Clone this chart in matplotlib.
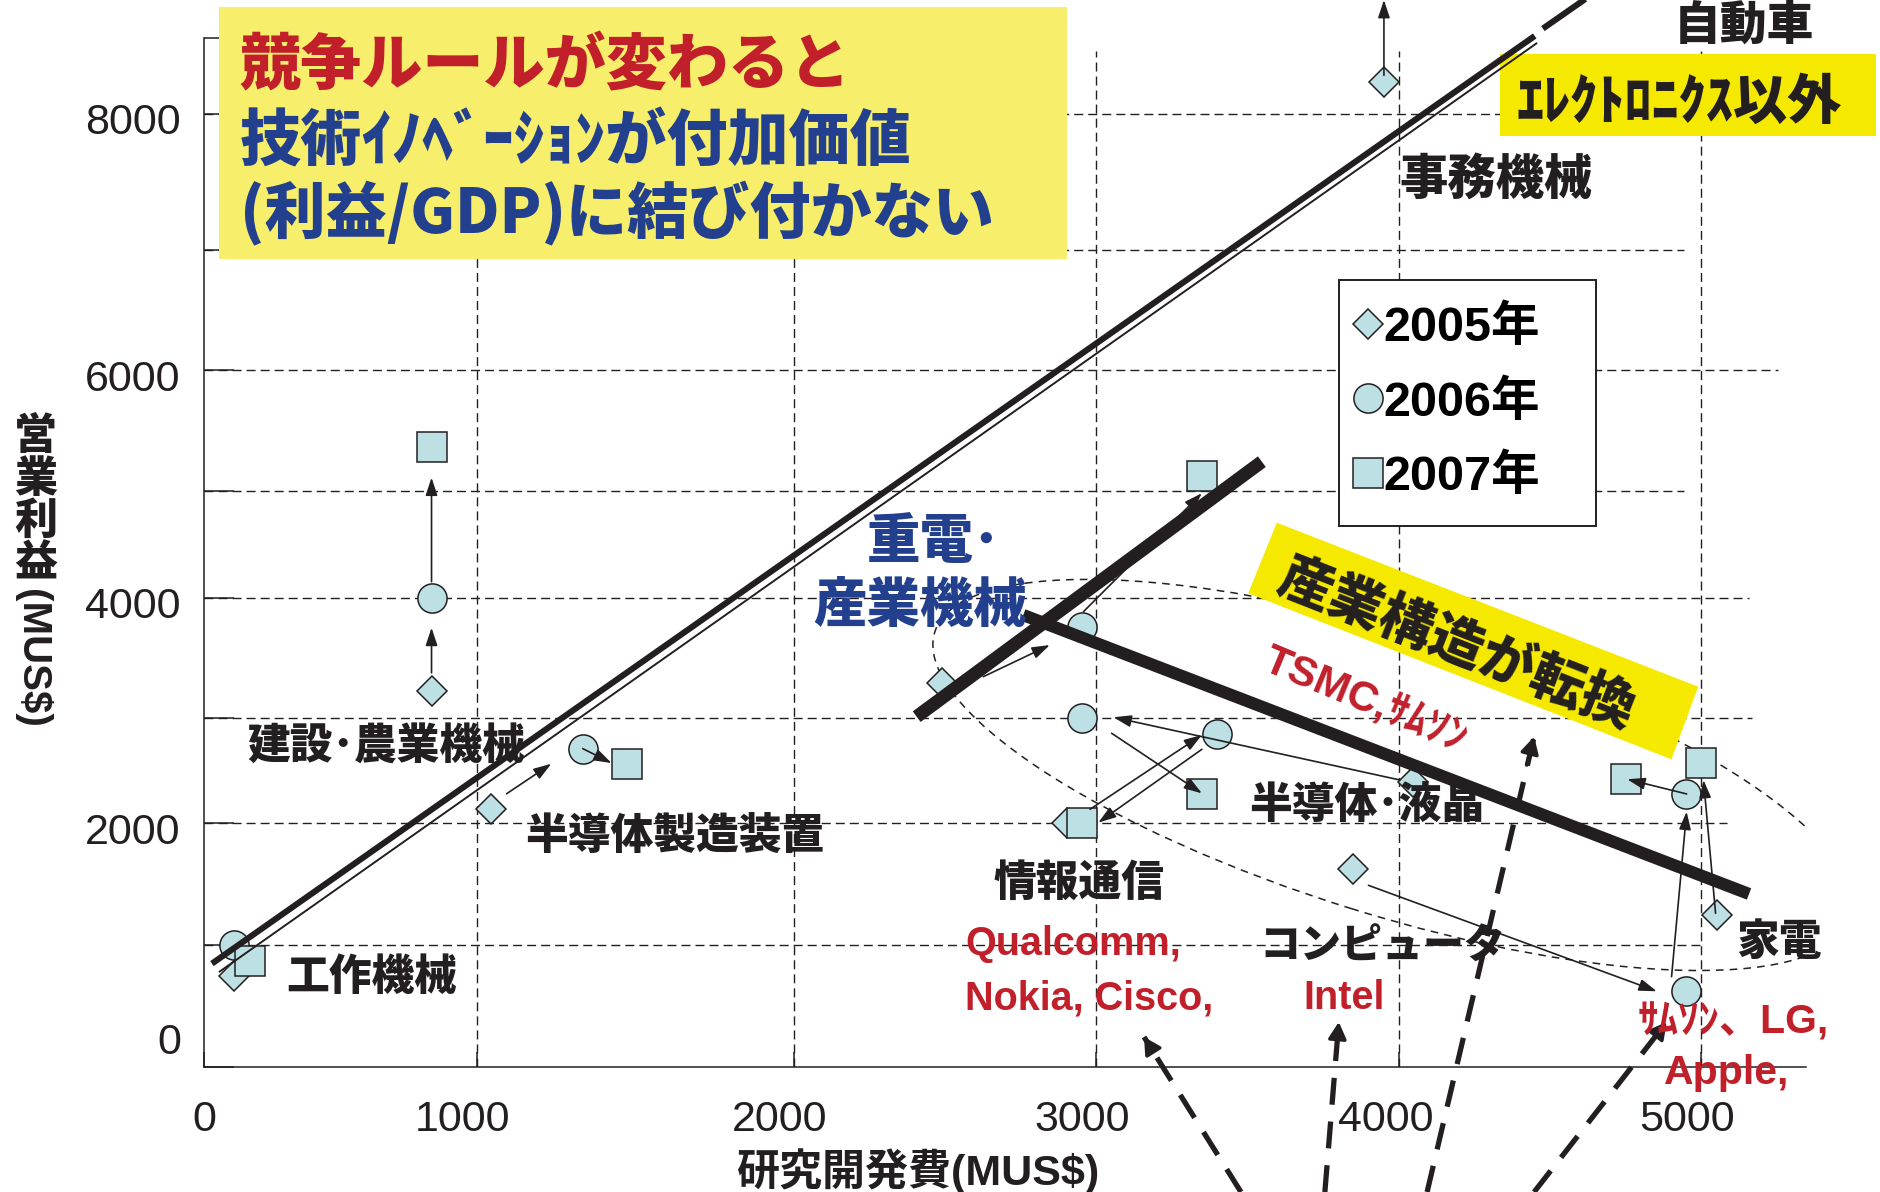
import numpy as np
import matplotlib
matplotlib.use("Agg")
import matplotlib.pyplot as plt
import matplotlib.transforms as mtransforms
from matplotlib.patches import Ellipse, Polygon, Rectangle
from matplotlib.lines import Line2D

# ---------------- values ----------------
# x: R&D spending (MUS$), y: operating profit (MUS$)
# order: 工作機械, 建設・農業機械, 半導体製造装置, 重電・産業機械, 情報通信,
#        半導体・液晶, コンピュータ, 家電, 事務機械
x2005 = [111, 834, 1045, 2489, 2902, 4044, 3848, 5053, 3949]
y2005 = [746, 3229, 2139, 3289, 2000, 2396, 1623, 1247, 8230]
x2006 = [111, 834, 1334, 2951, 3397, 2951, 4952, 4951]
y2006 = [1000, 4000, 2710, 3756, 2848, 3000, 622, 2280]
x2007 = [169, 834, 1474, 3350, 2951, 3350, 4752, 5000]
y2007 = [871, 5365, 2566, 5124, 2000, 2280, 2419, 2571]

# year-to-year arrows (tail -> head)
arr_x0 = [834, 834, 1094, 1334, 2626, 2957, 2979, 3348, 4002, 3050, 3898, 4903, 5049, 4953, 3949]
arr_y0 = [3376, 4152, 2282, 2710, 3344, 3886, 2135, 2703, 2412, 2855, 1491, 740, 1261, 2280, 8281]
arr_x1 = [834, 834, 1235, 1425, 2846, 3348, 3348, 3006, 3056, 3348, 4854, 4953, 5009, 4756, 3949]
arr_y1 = [3752, 5111, 2566, 2573, 3608, 4979, 2839, 2008, 3006, 2286, 620, 2112, 2412, 2419, 8834]

# dashed call-out arrows coming from below the chart (tail -> head)
call_x0 = [3477, 3754, 4092, 4447]
call_y0 = [-1028, -1028, -1028, -1028]
call_x1 = [3157, 3800, 4447, 4887]
call_y1 = [245, 368, 2823, 368]

# hand-drawn trend lines [x0, y0, x1, y1]
frontier_thick = [29, 847, 4449, 8570]
frontier_thin = [55, 778, 4457, 8519]
frontier_dash = [4476, 8624, 4755, 9054]
heavy_line = [2406, 3011, 3546, 5243]
shift_line = [2758, 3858, 5160, 1420]
ellipse_center = [3979, 2460]

x_ticks = [0, 1000, 2000, 3000, 4000, 5000]
y_ticks = [0, 2000, 4000, 6000, 8000]
y_minor = [1000, 3000, 5000, 7000]
x_grid = [1000, 2000, 3000, 4000, 5000]
y_grid = [1000, 2000, 3000, 4000, 5000, 6000, 7000, 8000]
y_grid_end = [5000, 5088, 5171, 5161, 4945, 5256, 4945, 5164]
legend_labels = ["2005年", "2006年", "2007年"]

# the hand-drawn axis is not perfectly even: pixel position of each grid line
x_knot_val = [0, 1000, 2000, 3000, 4000, 5000]
x_knot_px = [204, 476.8, 793.75, 1096.4, 1399.3, 1700.7]
y_knot_val = [0, 1000, 2000, 3000, 4000, 5000, 6000, 7000, 8000]
y_knot_px = [1066.8, 945, 823.5, 718, 598, 491, 370.5, 250, 113.7]

# ---------------- styling ----------------
W, H = 1881, 1192
INK = "#231F20"
FACE = "#BCE0E3"
RED = "#C1202B"
BLUE = "#22408E"
PALE = "#F7EE6B"
YEL = "#F5E900"
CJK = ["Noto Sans CJK JP", "DejaVu Sans"]
NAR = ["Liberation Sans Narrow", "Liberation Sans", "Noto Sans CJK JP", "DejaVu Sans"]

plt.rcParams["font.family"] = CJK
plt.rcParams["axes.unicode_minus"] = False


def piecewise(vals, pos):
    vals = np.asarray(vals, float)
    pos = np.asarray(pos, float)
    s_lo = (pos[1] - pos[0]) / (vals[1] - vals[0])
    s_hi = (pos[-1] - pos[-2]) / (vals[-1] - vals[-2])

    def fwd(v):
        v = np.asarray(v, float)
        out = np.interp(v, vals, pos)
        out = np.where(v < vals[0], pos[0] + (v - vals[0]) * s_lo, out)
        out = np.where(v > vals[-1], pos[-1] + (v - vals[-1]) * s_hi, out)
        return out

    def inv(p):
        p = np.asarray(p, float)
        out = np.interp(p, pos, vals)
        out = np.where(p < pos[0], vals[0] + (p - pos[0]) / s_lo, out)
        out = np.where(p > pos[-1], vals[-1] + (p - pos[-1]) / s_hi, out)
        return out

    return fwd, inv


fig = plt.figure(figsize=(W / 100, H / 100), dpi=100)
fig.patch.set_facecolor("white")
ax = fig.add_axes([204 / W, 1 - 1066.8 / H, (1806 - 204) / W, (1066.8 - 38) / H])
ax.set_autoscale_on(False)

fx, ix = piecewise(x_knot_val, x_knot_px)
fy, iy = piecewise(y_knot_val, [-p for p in y_knot_px])
ax.set_xscale("function", functions=(fx, ix))
ax.set_yscale("function", functions=(fy, iy))
ax.set_xlim(0, 5349)
ax.set_ylim(0, 8555)

pxT = mtransforms.Affine2D().scale(1 / W, -1 / H).translate(0, 1) + fig.transFigure

for s in ["top", "right"]:
    ax.spines[s].set_visible(False)
for s in ["left", "bottom"]:
    ax.spines[s].set_linewidth(1.1)
    ax.spines[s].set_color(INK)

# ticks
ax.set_xticks(x_ticks)
ax.set_xticklabels([str(v) for v in x_ticks])
ax.set_xticks([], minor=True)
ax.set_yticks(y_ticks)
ax.set_yticklabels([""] + [str(v) for v in y_ticks[1:]])
ax.set_yticks(y_minor + [8555], minor=True)
ax.tick_params(axis="x", which="both", direction="in", length=11, width=1.1,
               color=INK, pad=24, labelsize=31, labelcolor=INK)
ax.tick_params(axis="y", which="both", direction="in", length=21.5, width=1.1,
               color=INK, pad=17, labelsize=31, labelcolor=INK)
for lab in ax.get_xticklabels() + ax.get_yticklabels():
    lab.set_fontfamily(NAR)
off_x = mtransforms.ScaledTranslation(-14 / 100, 0, fig.dpi_scale_trans)
for lab in ax.get_xticklabels()[1:]:
    lab.set_transform(lab.get_transform() + off_x)
off_y = mtransforms.ScaledTranslation(0, -5 / 100, fig.dpi_scale_trans)
for lab in ax.get_yticklabels():
    lab.set_transform(lab.get_transform() + off_y)

# grid (dashed, drawn by hand in the original)
GRID_LS = (0, (6.5, 3.6))
for v, end in zip(y_grid, y_grid_end):
    ax.plot([0, end], [v, v], color=INK, lw=1.0, ls=GRID_LS, zorder=1)
for v in x_grid:
    ax.plot([v, v], [0, 8460], color=INK, lw=1.0, ls=GRID_LS, zorder=1)

# dashed ellipse around the electronics sectors
ell = Ellipse((0, 0), 9.6, 2.8, angle=-17.3, fill=False, ec=INK, lw=1.1,
              ls=(0, (5, 4)), zorder=2,
              transform=fig.dpi_scale_trans
              + mtransforms.ScaledTranslation(ellipse_center[0], ellipse_center[1], ax.transData))
ax.add_patch(ell)

# markers
mk = dict(ls="none", mfc=FACE, mec=INK, mew=1.1)
ax.plot(x2005, y2005, marker="D", ms=14.8, zorder=4, **mk)
ax.plot(x2006, y2006, marker="o", ms=21, zorder=4.1, **mk)
ax.plot(x2007, y2007, marker="s", ms=21, zorder=4.2, **mk)

# thin year-to-year arrows
for a, b, c, d in zip(arr_x0, arr_y0, arr_x1, arr_y1):
    ax.annotate("", xy=(c, d), xytext=(a, b), annotation_clip=False, zorder=5,
                arrowprops=dict(arrowstyle="-|>,head_length=0.75,head_width=0.25",
                                lw=1.2, color=INK, shrinkA=0, shrinkB=0,
                                mutation_scale=14.4))

# dashed call-out arrows from below
for a, b, c, d in zip(call_x0, call_y0, call_x1, call_y1):
    ax.plot([a, c], [b, d], color=INK, lw=3.8, ls=(0, (5.1, 3.2)),
            dash_capstyle="butt", clip_on=False, zorder=3)
    hx = c + 0.07 * (a - c)
    hy = d + 0.07 * (b - d)
    ax.annotate("", xy=(c, d), xytext=(hx, hy), annotation_clip=False, zorder=3,
                arrowprops=dict(arrowstyle="-|>,head_length=0.7,head_width=0.38",
                                lw=2.5, color=INK, shrinkA=0, shrinkB=0,
                                mutation_scale=14.4))


# heavy trend lines
def seg(p, **kw):
    ax.plot([p[0], p[2]], [p[1], p[3]], color=INK, solid_capstyle="butt",
            clip_on=False, **kw)


seg(heavy_line, lw=9.5, zorder=6)
seg(shift_line, lw=8.8, zorder=6)
seg(frontier_thick, lw=4.4, zorder=7.5)
seg(frontier_thin, lw=1.4, zorder=7.5)
seg(frontier_dash, lw=4.4, zorder=7.5)

# yellow boxes
ax.add_patch(Rectangle((219, 6.7), 848, 252.6, transform=pxT, fc=PALE, ec="none",
                       zorder=7, clip_on=False))
ax.add_patch(Rectangle((1499.7, 53.6), 375.8, 82.3, transform=pxT, fc=YEL, ec="none",
                       zorder=7, clip_on=False))
ax.add_patch(Polygon([[1276.8, 522.7], [1698.2, 686.7], [1671.4, 759.3], [1248.2, 593.3]],
                     closed=True, transform=pxT, fc=YEL, ec="none", zorder=7, clip_on=False))


def put(s, cx, cy, size, color=INK, fam=CJK, weight="black", rot=0.0, ha="center",
        k=0.38, z=8):
    em = size * 100 / 72
    r = np.deg2rad(rot)
    bx = cx + k * em * np.sin(r)
    by = cy + k * em * np.cos(r)
    return ax.text(bx, by, s, transform=pxT, fontsize=size, color=color, family=fam,
                   fontweight=weight, rotation=rot, rotation_mode="anchor", ha=ha,
                   va="baseline", zorder=z)


# title box text
put("競争ルールが変わると", 240, 61, 44, color=RED, ha="left", z=9)
put("技術ｲﾉﾍﾞｰｼｮﾝが付加価値", 240, 137, 44, color=BLUE, ha="left", z=9)
put("(利益/GDP)に結び付かない", 240, 210, 44, color=BLUE, ha="left", z=9)
put("ｴﾚｸﾄﾛﾆｸｽ以外", 1679, 98.5, 39, z=9)
put("産業構造が転換", 1458, 640, 39, rot=-21.4, z=9)

# sector labels
put("工作機械", 371.5, 974, 30.8)
put("建設･農業機械", 386, 743.5, 30.8)
put("半導体製造装置", 675, 832.6, 30.8)
put("情報通信", 1079.5, 879.5, 30.8)
put("コンピュータ", 1382, 943, 29.5)
put("家電", 1779, 939, 30.8)
put("半導体･液晶", 1367, 803, 30.8, z=5.5)
put("事務機械", 1496, 175, 34.8)
put("自動車", 1744, 22, 33.7)
put("重電･", 934, 537.7, 38.5, color=BLUE)
put("産業機械", 920, 601.2, 38.5, color=BLUE)

# company names (red)
RS = 28.5
put("Qualcomm,", 965, 955, RS, color=RED, fam=NAR, weight="bold", ha="left", k=0)
put("Nokia, Cisco,", 965, 1010, RS, color=RED, fam=NAR, weight="bold", ha="left", k=0)
put("Intel", 1344, 1008.7, RS, color=RED, fam=NAR, weight="bold", k=0)
put("ｻﾑｿﾝ、LG,", 1733, 1033, RS + 1, color=RED, fam=NAR, weight="bold", k=0)
put("Apple,", 1727, 1084, RS + 1, color=RED, fam=NAR, weight="bold", k=0)
put("TSMC,ｻﾑｿﾝ", 1367, 696, RS + 2, color=RED, fam=NAR, weight="bold", rot=-22.5, k=0.36)

# axis titles
put("研究開発費(MUS$)", 918, 1168.5, 31, fam=NAR, weight="bold")
for i, ch in enumerate("営業利益"):
    put(ch, 35.7, 432.5 + i * 42.7, 31)
put("(MUS$)", 35.7, 658, 29, fam=NAR, weight="bold", rot=-90, k=0.36)
# y "0" label sits a little above the axis line in the original
put("0", 181, 1039, 31, fam=NAR, weight="normal", ha="right", k=0.36)

# legend
hd = [Line2D([], [], marker="D", ms=14.8, **mk),
      Line2D([], [], marker="o", ms=21, **mk),
      Line2D([], [], marker="s", ms=21, **mk)]
leg = ax.legend(hd, legend_labels, loc="upper left",
                bbox_to_anchor=(0.7085, 0.5295, 0.1604, 0.2353), mode="expand",
                borderaxespad=0, prop={"family": NAR, "weight": "bold", "size": 35},
                frameon=True, fancybox=False, framealpha=1, edgecolor=INK,
                facecolor="white", borderpad=0.52, handlelength=0.15,
                handletextpad=0.24, labelspacing=0.60)
leg.get_frame().set_linewidth(1.4)
leg.set_zorder(7)

fig.savefig("out.png", dpi=100)
